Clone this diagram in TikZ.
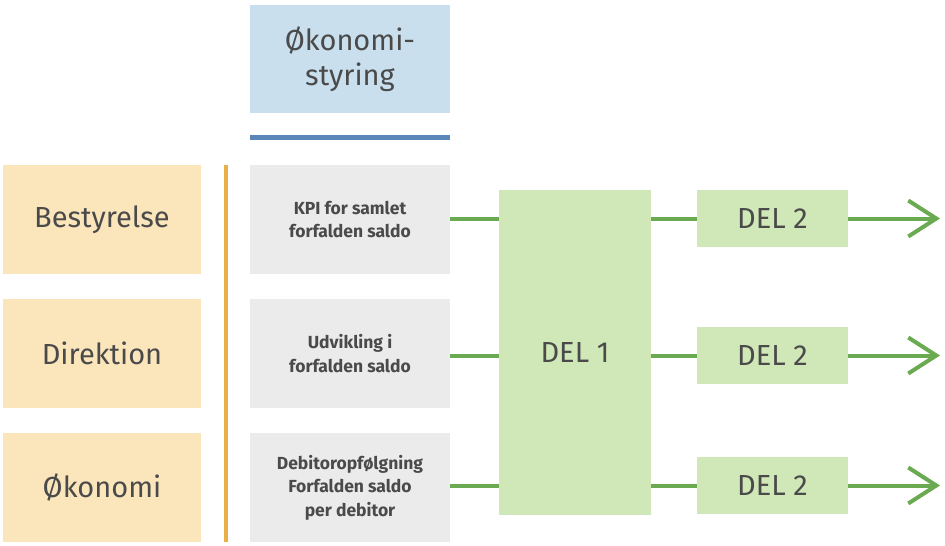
\documentclass[tikz,border=0pt]{standalone}
\usepackage{fontspec}
\setmainfont{Fira Sans}
\usetikzlibrary{arrows.meta}
\definecolor{tblue}{HTML}{C9DFEE}
\definecolor{lblue}{HTML}{5B87B8}
\definecolor{torange}{HTML}{FBE5BB}
\definecolor{lorange}{HTML}{E9B04A}
\definecolor{tgrey}{HTML}{EBEBEB}
\definecolor{tgreen}{HTML}{D0E7B7}
\definecolor{lgreen}{HTML}{6AAA50}
\definecolor{txt}{HTML}{4A4A4A}
\tikzset{
 box/.style={draw=none,inner sep=0pt,text=txt,align=center},
 big/.style={box,font=\fontsize{29}{35}\selectfont},
 small/.style={box,font=\fontsize{17.5}{23.5}\selectfont\bfseries},
 conn/.style={lgreen,line width=4pt},
 arr/.style={conn,-{Straight Barb[length=28pt,width=36pt,line width=4pt]}}
}
\begin{document}
\begin{tikzpicture}[x=1pt,y=-1pt]
\useasboundingbox (0,0) rectangle (945,546);
\node[big,fill=tblue,minimum width=200pt,minimum height=108pt] (oko) at (350,59) {Økonomi-\\styring};
\draw[lblue,line width=5pt] (250,137) -- (450,137);
\foreach \n/\y/\t in {b/219.5/Bestyrelse,d/353.5/Direktion,o/487.5/Økonomi}{
 \node[big,fill=torange,minimum width=198pt,minimum height=109pt] (\n) at (102,\y) {\t};
}
\draw[lorange,line width=4pt] (226,165) -- (226,542);
\node[small,fill=tgrey,minimum width=200pt,minimum height=109pt] (g1) at (350,219.5) {KPI for samlet\\forfalden saldo};
\node[small,fill=tgrey,minimum width=200pt,minimum height=109pt] (g2) at (350,353.5) {Udvikling i\\forfalden saldo};
\node[small,fill=tgrey,minimum width=200pt,minimum height=109pt] (g3) at (350,487.5) {Debitoropfølgning\\Forfalden saldo\\per debitor};
\node[big,fill=tgreen,minimum width=152pt,minimum height=325pt] (d1) at (575,352.5) {DEL 1};
\node[big,fill=tgreen,minimum width=151pt,minimum height=57pt] (e1) at (772.5,218.5) {DEL 2};
\node[big,fill=tgreen,minimum width=151pt,minimum height=57pt] (e2) at (772.5,355.5) {DEL 2};
\node[big,fill=tgreen,minimum width=151pt,minimum height=57pt] (e3) at (772.5,485.5) {DEL 2};
\coordinate (t1) at (940,218.5);
\coordinate (t2) at (940,355.5);
\coordinate (t3) at (940,485.5);
\draw[conn] (g1.east |- e1) -- (d1.west |- e1);
\draw[conn] (g2.east |- e2) -- (d1.west |- e2);
\draw[conn] (g3.east |- e3) -- (d1.west |- e3);
\draw[conn] (d1.east |- e1) -- (e1.west);
\draw[conn] (d1.east |- e2) -- (e2.west);
\draw[conn] (d1.east |- e3) -- (e3.west);
\draw[arr] (e1.east) -- (t1);
\draw[arr] (e2.east) -- (t2);
\draw[arr] (e3.east) -- (t3);
\end{tikzpicture}
\end{document}
